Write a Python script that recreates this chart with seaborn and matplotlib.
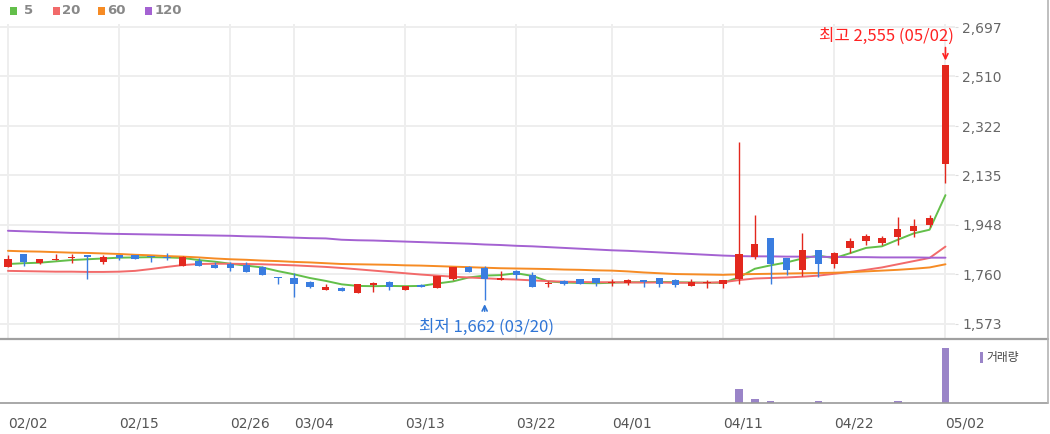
import numpy as np
import pandas as pd
import matplotlib
matplotlib.use("Agg")
import matplotlib.pyplot as plt
import seaborn as sns
from matplotlib.lines import Line2D
from matplotlib.patches import Rectangle

# ---------------- data ----------------
dates = ["02/02", "02/05", "02/06", "02/07", "02/08", "02/13", "02/14", "02/15", "02/16", "02/19",
         "02/20", "02/21", "02/22", "02/23", "02/26", "02/27", "02/28", "02/29", "03/04", "03/05",
         "03/06", "03/07", "03/08", "03/11", "03/12", "03/13", "03/14", "03/15", "03/18", "03/19",
         "03/20", "03/21", "03/22", "03/25", "03/26", "03/27", "03/28", "03/29", "04/01", "04/02",
         "04/03", "04/04", "04/05", "04/08", "04/09", "04/11", "04/12", "04/15", "04/16", "04/17",
         "04/18", "04/19", "04/22", "04/23", "04/24", "04/25", "04/26", "04/29", "04/30", "05/02"]

opens = [1787, 1836, 1804, 1815, 1821, 1833, 1808, 1833, 1833, 1829,
         1824, 1793, 1812, 1795, 1799, 1795, 1789, 1751, 1745, 1732,
         1700, 1707, 1688, 1719, 1732, 1700, 1719, 1707, 1741, 1786,
         1783, 1738, 1774, 1759, 1723, 1736, 1741, 1745, 1726, 1728,
         1738, 1745, 1740, 1716, 1726, 1723, 1742, 1827, 1899, 1823,
         1776, 1852, 1798, 1858, 1887, 1880, 1900, 1925, 1947, 2178]
highs = [1833, 1836, 1819, 1836, 1836, 1833, 1833, 1834, 1833, 1830,
         1840, 1830, 1823, 1808, 1808, 1806, 1790, 1751, 1766, 1736,
         1723, 1711, 1722, 1729, 1733, 1716, 1722, 1753, 1787, 1791,
         1791, 1774, 1775, 1768, 1736, 1740, 1744, 1746, 1741, 1742,
         1738, 1746, 1741, 1741, 1738, 1739, 2262, 1985, 1899, 1823,
         1915, 1852, 1843, 1896, 1913, 1905, 1978, 1968, 1985, 2555]
lows = [1787, 1791, 1798, 1815, 1804, 1741, 1799, 1814, 1817, 1808,
        1814, 1793, 1793, 1783, 1774, 1770, 1757, 1723, 1673, 1707,
        1700, 1698, 1688, 1694, 1700, 1700, 1711, 1707, 1738, 1770,
        1662, 1738, 1741, 1713, 1712, 1720, 1724, 1717, 1716, 1720,
        1712, 1711, 1713, 1716, 1707, 1707, 1723, 1817, 1723, 1757,
        1755, 1751, 1785, 1840, 1871, 1871, 1871, 1900, 1938, 2105]
closes = [1817, 1808, 1818, 1818, 1827, 1827, 1824, 1821, 1817, 1824,
          1821, 1824, 1793, 1783, 1783, 1770, 1757, 1745, 1723, 1713,
          1711, 1698, 1722, 1728, 1713, 1716, 1711, 1753, 1786, 1770,
          1741, 1745, 1759, 1713, 1728, 1723, 1724, 1727, 1732, 1738,
          1732, 1723, 1719, 1732, 1731, 1738, 1836, 1875, 1798, 1776,
          1852, 1798, 1842, 1887, 1905, 1896, 1932, 1943, 1972, 2555]

ma5 = [1799, 1802, 1804, 1809, 1814, 1817, 1820, 1823, 1824, 1825,
       1824, 1822, 1814, 1808, 1800, 1793, 1786, 1772, 1760, 1746,
       1735, 1722, 1716, 1715, 1716, 1715, 1716, 1725, 1733, 1748,
       1755, 1757, 1764, 1754, 1733, 1729, 1727, 1726, 1728, 1730,
       1730, 1731, 1730, 1729, 1728, 1728, 1748, 1781, 1794, 1805,
       1820, 1831, 1821, 1840, 1860, 1866, 1891, 1915, 1929, 2060]
ma20 = [1773, 1772, 1771, 1770, 1770, 1769, 1769, 1770, 1773, 1780,
        1788, 1795, 1799, 1800, 1800, 1799, 1798, 1796, 1794, 1791,
        1788, 1784, 1779, 1774, 1769, 1764, 1759, 1755, 1751, 1748,
        1745, 1742, 1740, 1737, 1734, 1732, 1731, 1730, 1730, 1729,
        1729, 1729, 1728, 1728, 1728, 1730, 1738, 1744, 1746, 1748,
        1751, 1755, 1762, 1769, 1777, 1786, 1798, 1810, 1822, 1865]
ma60 = [1849, 1847, 1846, 1844, 1842, 1841, 1839, 1837, 1834, 1832,
        1829, 1827, 1824, 1820, 1817, 1815, 1812, 1810, 1807, 1805,
        1802, 1799, 1798, 1797, 1796, 1794, 1793, 1791, 1789, 1787,
        1785, 1783, 1782, 1781, 1780, 1778, 1777, 1775, 1774, 1771,
        1767, 1764, 1761, 1760, 1759, 1758, 1760, 1761, 1762, 1763,
        1764, 1765, 1766, 1768, 1771, 1774, 1777, 1781, 1786, 1798]
ma120 = [1925, 1923, 1921, 1919, 1917, 1916, 1914, 1913, 1912, 1911,
         1910, 1909, 1908, 1907, 1906, 1904, 1903, 1901, 1899, 1897,
         1896, 1891, 1889, 1888, 1886, 1884, 1882, 1880, 1878, 1876,
         1873, 1871, 1868, 1866, 1863, 1860, 1857, 1854, 1851, 1849,
         1846, 1843, 1840, 1837, 1834, 1831, 1829, 1828, 1828, 1827,
         1827, 1826, 1826, 1825, 1825, 1824, 1824, 1824, 1823, 1823]

volume = [1, 1, 1, 1, 1, 1, 1, 1, 1, 1,
          1, 1, 1, 1, 1, 1, 1, 1, 1, 1,
          1, 1, 1, 1, 1, 1, 1, 1, 1, 1,
          1, 1, 1, 1, 1, 1, 1, 1, 1, 1,
          1, 1, 1, 1, 1, 1, 252, 62, 31, 1,
          1, 31, 1, 1, 1, 1, 31, 1, 1, 1000]

y_ticks = [1573, 1760, 1948, 2135, 2322, 2510, 2697]
x_tick_dates = ["02/02", "02/15", "02/26", "03/04", "03/13", "03/22", "04/01", "04/11", "04/22", "05/02"]
ma_names = ["5", "20", "60", "120"]
volume_label = "거래량"

# ---------------- style ----------------
UP = "#e3281e"
DOWN = "#3a7de0"
MA_COLORS = {"5": "#63bf4a", "20": "#f26a6a", "60": "#f68b24", "120": "#a462d2"}
VOL = "#9a84c8"
HI_TXT = "#ff2222"
LO_TXT = "#2f75d6"
GRID = "#eeeeee"
KFONT = ["Noto Sans CJK KR", "DejaVu Sans"]

sns.set_style("white")
plt.rcParams["font.family"] = ["DejaVu Sans", "Noto Sans CJK KR"]

W, H = 1050, 434
fig = plt.figure(figsize=(W / 100, H / 100), dpi=100)


def fx(px):
    return px / W


def fy(py):
    return 1 - py / H


ax = fig.add_axes([0, fy(338), fx(955), fy(24) - fy(338)])
axv = fig.add_axes([0, fy(402.7), fx(955), fy(340) - fy(402.7)])

idx = np.arange(len(dates))
o = np.array(opens, float)
h = np.array(highs, float)
l = np.array(lows, float)
c = np.array(closes, float)

# moving averages through seaborn
ma_df = pd.DataFrame({"idx": idx, "5": ma5, "20": ma20, "60": ma60, "120": ma120})
ma_long = ma_df.melt(id_vars="idx", var_name="ma", value_name="value")
sns.lineplot(data=ma_long, x="idx", y="value", hue="ma", hue_order=ma_names,
             palette=MA_COLORS, ax=ax, legend=False, lw=1.4, zorder=2)

# candles
cols = np.where(c >= o, UP, DOWN)
ax.vlines(idx, l, h, colors=cols, lw=1.0, zorder=3)
body_bottom = np.minimum(o, c)
body_h = np.maximum(np.abs(c - o), 4)
ax.bar(idx, body_h, bottom=body_bottom, width=0.46, color=cols, linewidth=0, zorder=4)

ax.set_xlim(-0.5, 59.6)
ax.set_ylim(1518.6, 2708.6)
ax.set_axisbelow(True)
tick_idx = [dates.index(d) for d in x_tick_dates]
ax.set_xticks(tick_idx)
ax.tick_params(axis="x", length=0, labelbottom=False)
ax.set_yticks(y_ticks)
ax.set_yticklabels([f"{v:,}" for v in y_ticks])
ax.yaxis.tick_right()
ax.tick_params(axis="y", length=2, color="#dddddd", labelcolor="#666666", labelsize=10, pad=3)
ax.grid(True, color=GRID, lw=1.4)
ax.set_xlabel("")
ax.set_ylabel("")
for s in ax.spines.values():
    s.set_visible(False)

# high / low annotations
imax = int(np.argmax(h))
imin = int(np.argmin(l))
k = 0.72  # px -> pt
ax.annotate("", xy=(imax, h[imax]), xytext=(0, 17 * k), textcoords="offset points",
            arrowprops=dict(arrowstyle="->", color=HI_TXT, lw=1.2, shrinkA=0, shrinkB=4 * k,
                            mutation_scale=9))
ax.annotate(f"최고 {highs[imax]:,} ({dates[imax]})", xy=(imax, h[imax]), xytext=(8 * k, 28 * k),
            textcoords="offset points", ha="right", va="center", color=HI_TXT,
            fontsize=12, family=KFONT)
ax.annotate("", xy=(imin, l[imin]), xytext=(0, -11 * k), textcoords="offset points",
            arrowprops=dict(arrowstyle="->", color=LO_TXT, lw=1.2, shrinkA=0, shrinkB=4 * k,
                            mutation_scale=9))
ax.annotate(f"최저 {lows[imin]:,} ({dates[imin]})", xy=(imin, l[imin]), xytext=(2 * k, -27 * k),
            textcoords="offset points", ha="center", va="center", color=LO_TXT,
            fontsize=12, family=KFONT)

# volume
sns.barplot(x=idx, y=volume, native_scale=True, width=0.48, color=VOL, saturation=1,
            errorbar=None, ax=axv, linewidth=0)
axv.set_xlim(-0.5, 59.6)
axv.set_ylim(0, 1152)
axv.set_yticks([])
axv.set_xticks(tick_idx)
axv.set_xticklabels(x_tick_dates, ha="left")
axv.tick_params(axis="x", length=6, color="#999999", labelcolor="#555555", labelsize=10, pad=4)
axv.set_xlabel("")
axv.set_ylabel("")
for s in axv.spines.values():
    s.set_visible(False)

# frame lines
fig.add_artist(Line2D([0, fx(1048)], [fy(338.8), fy(338.8)], color="#a0a0a0", lw=1.6))
fig.add_artist(Line2D([0, fx(1048)], [fy(402.7), fy(402.7)], color="#9a9a9a", lw=1.2))
fig.add_artist(Line2D([fx(1047.5), fx(1047.5)], [fy(402.7), fy(0)], color="#b4b4b4", lw=1.2))

# top legend
sq_x = [10, 53, 98, 145]
tx_x = [24, 62, 107, 155]
for name, sx, tx in zip(ma_names, sq_x, tx_x):
    fig.add_artist(Rectangle((fx(sx), fy(15)), fx(7), fy(7) - fy(15),
                             transform=fig.transFigure, color=MA_COLORS[name], lw=0))
    fig.text(fx(tx), fy(11), name, ha="left", va="center", color="#888888",
             fontsize=9.5, fontweight="bold")

# volume legend
fig.add_artist(Rectangle((fx(979.5), fy(363)), fx(3.5), fy(352) - fy(363),
                         transform=fig.transFigure, color=VOL, lw=0))
fig.text(fx(986), fy(357.5), volume_label, ha="left", va="center", color="#444444",
         fontsize=8.5, family=KFONT)

fig.savefig("out.png", dpi=100)
